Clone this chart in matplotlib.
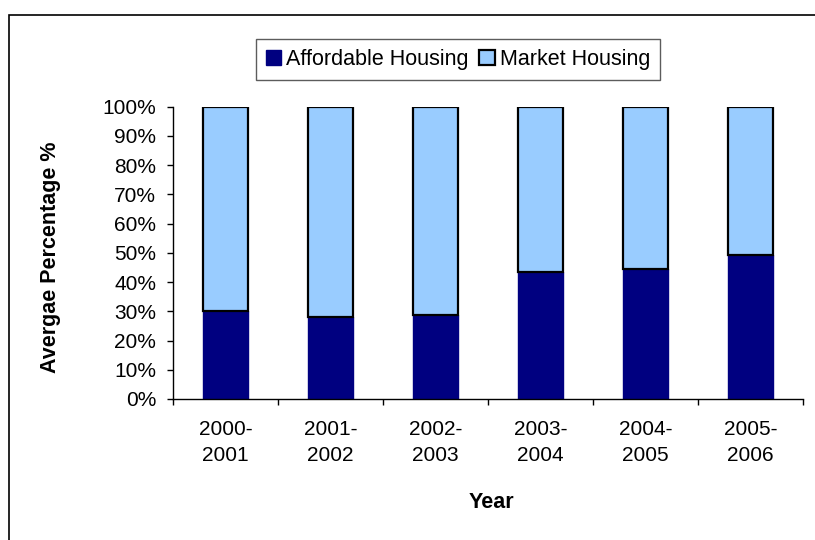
import numpy as np
import matplotlib
matplotlib.use('Agg')
from matplotlib import pyplot as plt
from matplotlib.patches import Rectangle


# Chart data
years = ['2000-\n2001', '2001-\n2002', '2002-\n2003', '2003-\n2004', '2004-\n2005', '2005-\n2006']
affordable = [30.1, 28.1, 28.9, 43.3, 44.5, 49.4]
market = [100 - v for v in affordable]

plt.rcParams['font.family'] = ['Liberation Sans', 'DejaVu Sans']
FS = 15.5

W, H = 815, 540
fig = plt.figure(figsize=(W / 100, H / 100), dpi=100)
ax = fig.add_axes([173 / W, 1 - 399 / H, (803 - 173) / W, (399 - 106.7) / H])

x = np.arange(len(years))
ax.bar(x, affordable, width=0.42, color='#000080', edgecolor='#000080', linewidth=1,
       label='Affordable Housing')
ax.bar(x, market, width=0.42, bottom=affordable, color='#99CCFF', edgecolor='black',
       linewidth=1.6, label='Market Housing')

ax.set_xlim(-0.5, len(years) - 0.5)
ax.set_ylim(0, 100)

ax.spines['top'].set_visible(False)
ax.spines['right'].set_visible(False)
for s in ('left', 'bottom'):
    ax.spines[s].set_linewidth(1)

ax.set_yticks(np.arange(0, 101, 10))
ax.set_yticklabels([f'{v}%' for v in range(0, 101, 10)], fontsize=15)
ax.tick_params(axis='y', direction='out', length=4, width=1, pad=8)

ax.set_xticks(np.arange(-0.5, len(years), 1))
ax.set_xticklabels([])
ax.tick_params(axis='x', which='major', direction='out', length=4, width=1)
ax.set_xticks(x, minor=True)
ax.set_xticklabels(years, minor=True, fontsize=15, linespacing=1.45)
ax.tick_params(axis='x', which='minor', length=0, pad=15)

fig.text(51 / W, 1 - 257 / H, 'Avergae Percentage %', rotation=90, fontsize=FS,
         fontweight='bold', ha='center', va='center')
fig.text(491 / W, 1 - 502 / H, 'Year', fontsize=FS, fontweight='bold',
         ha='center', va='center')

leg = fig.legend(loc='center', bbox_to_anchor=(458 / W, 1 - 59.5 / H), ncol=2,
                 fontsize=FS, frameon=True, fancybox=False, handlelength=0.7,
                 handleheight=0.7, handletextpad=0.25, columnspacing=0.5,
                 borderpad=0.45, borderaxespad=0)
leg.get_frame().set_edgecolor('#333333')
leg.get_frame().set_linewidth(1)

# outer chart frame
fig.patches.append(Rectangle((9 / W, -0.1), 1.2, 1 - 15 / H + 0.1, transform=fig.transFigure,
                             fill=False, edgecolor='black', linewidth=1.2, clip_on=False))

fig.savefig('out.png', dpi=100)
